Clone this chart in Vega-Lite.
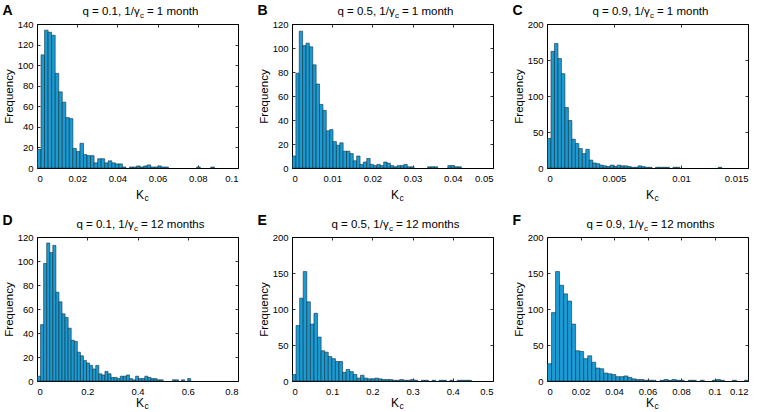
{
  "$schema": "https://vega.github.io/schema/vega-lite/v6.json",
  "background": "white",
  "padding": {"left": 1, "top": 2, "right": 0, "bottom": 0},
  "autosize": {"type": "pad"},
  "columns": 3,
  "spacing": {"row": 69, "column": 54},
  "bounds": "flush",
  "datasets": {
    "A": [{"k":0,"n":18},{"k":0.00176,"n":110},{"k":0.00352,"n":134},{"k":0.00528,"n":132},{"k":0.00704,"n":129},{"k":0.0088,"n":92},{"k":0.01056,"n":74},{"k":0.01232,"n":64},{"k":0.01408,"n":49},{"k":0.01584,"n":48},{"k":0.0176,"n":19},{"k":0.01936,"n":16},{"k":0.02112,"n":24},{"k":0.02288,"n":13},{"k":0.02464,"n":12},{"k":0.0264,"n":12},{"k":0.02816,"n":5},{"k":0.02992,"n":9},{"k":0.03168,"n":9},{"k":0.03344,"n":5},{"k":0.0352,"n":7},{"k":0.03696,"n":5},{"k":0.03872,"n":4},{"k":0.04048,"n":4},{"k":0.04224,"n":1},{"k":0.04576,"n":1},{"k":0.04752,"n":1},{"k":0.04928,"n":2},{"k":0.05104,"n":1},{"k":0.0528,"n":2},{"k":0.05456,"n":3},{"k":0.05632,"n":1},{"k":0.05808,"n":1},{"k":0.05984,"n":2},{"k":0.0616,"n":1},{"k":0.06336,"n":1},{"k":0.0792,"n":1},{"k":0.08624,"n":1}],
    "B": [{"k":0,"n":10},{"k":0.00084,"n":79},{"k":0.00168,"n":114},{"k":0.00252,"n":102},{"k":0.00336,"n":104},{"k":0.0042,"n":101},{"k":0.00504,"n":86},{"k":0.00588,"n":70},{"k":0.00672,"n":53},{"k":0.00756,"n":48},{"k":0.0084,"n":31},{"k":0.00924,"n":32},{"k":0.01008,"n":22},{"k":0.01092,"n":19},{"k":0.01176,"n":21},{"k":0.0126,"n":14},{"k":0.01344,"n":14},{"k":0.01428,"n":12},{"k":0.01512,"n":6},{"k":0.01596,"n":10},{"k":0.0168,"n":3},{"k":0.01764,"n":5},{"k":0.01848,"n":8},{"k":0.01932,"n":3},{"k":0.02016,"n":2},{"k":0.021,"n":3},{"k":0.02184,"n":2},{"k":0.02268,"n":5},{"k":0.02352,"n":4},{"k":0.02436,"n":2},{"k":0.0252,"n":1},{"k":0.02604,"n":2},{"k":0.02688,"n":2},{"k":0.02772,"n":3},{"k":0.02856,"n":1},{"k":0.0294,"n":1},{"k":0.0336,"n":1},{"k":0.03444,"n":1},{"k":0.03528,"n":1},{"k":0.03864,"n":2},{"k":0.03948,"n":2},{"k":0.04032,"n":1},{"k":0.04116,"n":1}],
    "C": [{"k":0,"n":41},{"k":0.00026,"n":162},{"k":0.00052,"n":173},{"k":0.00078,"n":152},{"k":0.00104,"n":131},{"k":0.0013,"n":84},{"k":0.00156,"n":66},{"k":0.00182,"n":40},{"k":0.00208,"n":34},{"k":0.00234,"n":27},{"k":0.0026,"n":20},{"k":0.00286,"n":26},{"k":0.00312,"n":11},{"k":0.00338,"n":7},{"k":0.00364,"n":6},{"k":0.0039,"n":4},{"k":0.00416,"n":3},{"k":0.00442,"n":2},{"k":0.00468,"n":4},{"k":0.00494,"n":2},{"k":0.0052,"n":4},{"k":0.00546,"n":3},{"k":0.00572,"n":3},{"k":0.00598,"n":2},{"k":0.00624,"n":1},{"k":0.0065,"n":1},{"k":0.00676,"n":3},{"k":0.00702,"n":2},{"k":0.00728,"n":1},{"k":0.00754,"n":1},{"k":0.00806,"n":1},{"k":0.00832,"n":1},{"k":0.00858,"n":1},{"k":0.00884,"n":1},{"k":0.00936,"n":1},{"k":0.00962,"n":1},{"k":0.01274,"n":1}],
    "D": [{"k":0,"n":4},{"k":0.0122,"n":47},{"k":0.0244,"n":98},{"k":0.0366,"n":115},{"k":0.0488,"n":107},{"k":0.061,"n":113},{"k":0.0732,"n":74},{"k":0.0854,"n":66},{"k":0.0976,"n":56},{"k":0.1098,"n":53},{"k":0.122,"n":44},{"k":0.1342,"n":34},{"k":0.1464,"n":33},{"k":0.1586,"n":24},{"k":0.1708,"n":21},{"k":0.183,"n":17},{"k":0.1952,"n":15},{"k":0.2074,"n":13},{"k":0.2196,"n":10},{"k":0.2318,"n":13},{"k":0.244,"n":6},{"k":0.2562,"n":5},{"k":0.2684,"n":8},{"k":0.2806,"n":6},{"k":0.2928,"n":3},{"k":0.305,"n":3},{"k":0.3172,"n":2},{"k":0.3294,"n":4},{"k":0.3416,"n":4},{"k":0.3538,"n":5},{"k":0.366,"n":2},{"k":0.3782,"n":1},{"k":0.3904,"n":4},{"k":0.4026,"n":2},{"k":0.4148,"n":2},{"k":0.427,"n":4},{"k":0.4392,"n":3},{"k":0.4514,"n":2},{"k":0.4636,"n":2},{"k":0.4758,"n":1},{"k":0.488,"n":1},{"k":0.5368,"n":1},{"k":0.549,"n":1},{"k":0.5734,"n":1},{"k":0.5978,"n":2}],
    "E": [{"k":0,"n":9},{"k":0.0089,"n":77},{"k":0.0178,"n":115},{"k":0.0267,"n":152},{"k":0.0356,"n":110},{"k":0.0445,"n":79},{"k":0.0534,"n":94},{"k":0.0623,"n":61},{"k":0.0712,"n":42},{"k":0.0801,"n":40},{"k":0.089,"n":34},{"k":0.0979,"n":31},{"k":0.1068,"n":27},{"k":0.1157,"n":27},{"k":0.1246,"n":12},{"k":0.1335,"n":16},{"k":0.1424,"n":13},{"k":0.1513,"n":9},{"k":0.1602,"n":4},{"k":0.1691,"n":8},{"k":0.178,"n":4},{"k":0.1869,"n":3},{"k":0.1958,"n":3},{"k":0.2047,"n":4},{"k":0.2136,"n":3},{"k":0.2225,"n":2},{"k":0.2314,"n":2},{"k":0.2403,"n":2},{"k":0.2492,"n":1},{"k":0.2581,"n":1},{"k":0.267,"n":2},{"k":0.2759,"n":1},{"k":0.2848,"n":1},{"k":0.2937,"n":2},{"k":0.3026,"n":1},{"k":0.3204,"n":1},{"k":0.3293,"n":1},{"k":0.3471,"n":1},{"k":0.3649,"n":1},{"k":0.3738,"n":1},{"k":0.3916,"n":1},{"k":0.4094,"n":1},{"k":0.4183,"n":1},{"k":0.4272,"n":1},{"k":0.4361,"n":1}],
    "F": [{"k":0,"n":24},{"k":0.0024,"n":95},{"k":0.0048,"n":152},{"k":0.0072,"n":133},{"k":0.0096,"n":121},{"k":0.012,"n":111},{"k":0.0144,"n":79},{"k":0.0168,"n":42},{"k":0.0192,"n":41},{"k":0.0216,"n":31},{"k":0.024,"n":35},{"k":0.0264,"n":26},{"k":0.0288,"n":18},{"k":0.0312,"n":17},{"k":0.0336,"n":11},{"k":0.036,"n":10},{"k":0.0384,"n":9},{"k":0.0408,"n":6},{"k":0.0432,"n":6},{"k":0.0456,"n":7},{"k":0.048,"n":5},{"k":0.0504,"n":3},{"k":0.0528,"n":2},{"k":0.0552,"n":2},{"k":0.0576,"n":1},{"k":0.06,"n":1},{"k":0.0624,"n":1},{"k":0.0672,"n":1},{"k":0.0696,"n":2},{"k":0.072,"n":1},{"k":0.0744,"n":2},{"k":0.0768,"n":1},{"k":0.0792,"n":1},{"k":0.084,"n":1},{"k":0.0864,"n":1},{"k":0.0912,"n":1},{"k":0.0984,"n":1},{"k":0.1008,"n":2},{"k":0.1032,"n":1},{"k":0.1104,"n":1},{"k":0.1176,"n":1}]
  },
  "concat": [
    {"width":201,"height":144,"data":{"name":"A"},
     "layer":[
      {"mark":{"type":"bar","binSpacing":0,"fill":"#1a9bd3","stroke":"#10303f","strokeWidth":0.6},
       "encoding":{
        "x":{"field":"k","type":"quantitative","bin":{"binned":true,"step":0.00176},"scale":{"domain":[0,0.1],"nice":false,"zero":false},"axis":{"orient":"bottom","values":[0,0.02,0.04,0.06,0.08,0.1],"format":"~g","title":"K","titleX":106.5,"titleAlign":"right"}},
        "y":{"field":"n","type":"quantitative","scale":{"domain":[0,140],"nice":false},"axis":{"orient":"left","values":[0,20,40,60,80,100,120,140],"title":"Frequency"}}}},
      {"mark":{"type":"point","opacity":0},
       "encoding":{
        "x":{"field":"k","type":"quantitative","scale":{"domain":[0,0.1],"nice":false,"zero":false},"axis":{"orient":"top","values":[0,0.02,0.04,0.06,0.08,0.1],"title":"q = 0.1, 1/γ","titleX":102.2,"titleAlign":"right"}},
        "y":{"field":"n","type":"quantitative","scale":{"domain":[0,140],"nice":false},"axis":{"orient":"right","values":[0,20,40,60,80,100,120,140],"title":"A"}}}},
      {"mark":{"type":"point","opacity":0},
       "encoding":{
        "x":{"field":"k","type":"quantitative","scale":{"domain":[0,0.1],"nice":false,"zero":false},"axis":{"orient":"bottom","ticks":false,"labels":false,"title":"c","titleX":107,"titleY":32,"titleAlign":"left","titleFontSize":8.5}},
        "y":{"field":"n","type":"quantitative","scale":{"domain":[0,140],"nice":false},"axis":{"orient":"left","ticks":false,"labels":false,"title":"c","titleAngle":0,"titleX":102.5,"titleY":-7,"titleAlign":"left","titleFontSize":8}}}},
      {"mark":{"type":"point","opacity":0},
       "encoding":{
        "x":{"field":"k","type":"quantitative","scale":{"domain":[0,0.1],"nice":false,"zero":false},"axis":{"orient":"top","ticks":false,"labels":false,"title":"= 1 month","titleX":109.4,"titleAlign":"left"}},
        "y":{"field":"n","type":"quantitative","scale":{"domain":[0,140],"nice":false},"axis":null}}}
     ],
     "resolve":{"axis":{"x":"independent","y":"independent"}}},
    {"width":201,"height":144,"data":{"name":"B"},
     "layer":[
      {"mark":{"type":"bar","binSpacing":0,"fill":"#1a9bd3","stroke":"#10303f","strokeWidth":0.6},
       "encoding":{
        "x":{"field":"k","type":"quantitative","bin":{"binned":true,"step":0.00084},"scale":{"domain":[0,0.05],"nice":false,"zero":false},"axis":{"orient":"bottom","values":[0,0.01,0.02,0.03,0.04,0.05],"format":"~g","title":"K","titleX":106.5,"titleAlign":"right"}},
        "y":{"field":"n","type":"quantitative","scale":{"domain":[0,120],"nice":false},"axis":{"orient":"left","values":[0,20,40,60,80,100,120],"title":"Frequency"}}}},
      {"mark":{"type":"point","opacity":0},
       "encoding":{
        "x":{"field":"k","type":"quantitative","scale":{"domain":[0,0.05],"nice":false,"zero":false},"axis":{"orient":"top","values":[0,0.01,0.02,0.03,0.04,0.05],"title":"q = 0.5, 1/γ","titleX":102.2,"titleAlign":"right"}},
        "y":{"field":"n","type":"quantitative","scale":{"domain":[0,120],"nice":false},"axis":{"orient":"right","values":[0,20,40,60,80,100,120],"title":"B"}}}},
      {"mark":{"type":"point","opacity":0},
       "encoding":{
        "x":{"field":"k","type":"quantitative","scale":{"domain":[0,0.05],"nice":false,"zero":false},"axis":{"orient":"bottom","ticks":false,"labels":false,"title":"c","titleX":107,"titleY":32,"titleAlign":"left","titleFontSize":8.5}},
        "y":{"field":"n","type":"quantitative","scale":{"domain":[0,120],"nice":false},"axis":{"orient":"left","ticks":false,"labels":false,"title":"c","titleAngle":0,"titleX":102.5,"titleY":-7,"titleAlign":"left","titleFontSize":8}}}},
      {"mark":{"type":"point","opacity":0},
       "encoding":{
        "x":{"field":"k","type":"quantitative","scale":{"domain":[0,0.05],"nice":false,"zero":false},"axis":{"orient":"top","ticks":false,"labels":false,"title":"= 1 month","titleX":109.4,"titleAlign":"left"}},
        "y":{"field":"n","type":"quantitative","scale":{"domain":[0,120],"nice":false},"axis":null}}}
     ],
     "resolve":{"axis":{"x":"independent","y":"independent"}}},
    {"width":201,"height":144,"data":{"name":"C"},
     "layer":[
      {"mark":{"type":"bar","binSpacing":0,"fill":"#1a9bd3","stroke":"#10303f","strokeWidth":0.6},
       "encoding":{
        "x":{"field":"k","type":"quantitative","bin":{"binned":true,"step":0.00026},"scale":{"domain":[0,0.015],"nice":false,"zero":false},"axis":{"orient":"bottom","values":[0,0.005,0.01,0.015],"format":"~g","title":"K","titleX":106.5,"titleAlign":"right"}},
        "y":{"field":"n","type":"quantitative","scale":{"domain":[0,200],"nice":false},"axis":{"orient":"left","values":[0,50,100,150,200],"title":"Frequency"}}}},
      {"mark":{"type":"point","opacity":0},
       "encoding":{
        "x":{"field":"k","type":"quantitative","scale":{"domain":[0,0.015],"nice":false,"zero":false},"axis":{"orient":"top","values":[0,0.005,0.01,0.015],"title":"q = 0.9, 1/γ","titleX":102.2,"titleAlign":"right"}},
        "y":{"field":"n","type":"quantitative","scale":{"domain":[0,200],"nice":false},"axis":{"orient":"right","values":[0,50,100,150,200],"title":"C"}}}},
      {"mark":{"type":"point","opacity":0},
       "encoding":{
        "x":{"field":"k","type":"quantitative","scale":{"domain":[0,0.015],"nice":false,"zero":false},"axis":{"orient":"bottom","ticks":false,"labels":false,"title":"c","titleX":107,"titleY":32,"titleAlign":"left","titleFontSize":8.5}},
        "y":{"field":"n","type":"quantitative","scale":{"domain":[0,200],"nice":false},"axis":{"orient":"left","ticks":false,"labels":false,"title":"c","titleAngle":0,"titleX":102.5,"titleY":-7,"titleAlign":"left","titleFontSize":8}}}},
      {"mark":{"type":"point","opacity":0},
       "encoding":{
        "x":{"field":"k","type":"quantitative","scale":{"domain":[0,0.015],"nice":false,"zero":false},"axis":{"orient":"top","ticks":false,"labels":false,"title":"= 1 month","titleX":109.4,"titleAlign":"left"}},
        "y":{"field":"n","type":"quantitative","scale":{"domain":[0,200],"nice":false},"axis":null}}}
     ],
     "resolve":{"axis":{"x":"independent","y":"independent"}}},
    {"width":201,"height":144,"data":{"name":"D"},
     "layer":[
      {"mark":{"type":"bar","binSpacing":0,"fill":"#1a9bd3","stroke":"#10303f","strokeWidth":0.6},
       "encoding":{
        "x":{"field":"k","type":"quantitative","bin":{"binned":true,"step":0.0122},"scale":{"domain":[0,0.8],"nice":false,"zero":false},"axis":{"orient":"bottom","values":[0,0.2,0.4,0.6,0.8],"format":"~g","title":"K","titleX":106.5,"titleY":25,"titleAlign":"right"}},
        "y":{"field":"n","type":"quantitative","scale":{"domain":[0,120],"nice":false},"axis":{"orient":"left","values":[0,20,40,60,80,100,120],"title":"Frequency"}}}},
      {"mark":{"type":"point","opacity":0},
       "encoding":{
        "x":{"field":"k","type":"quantitative","scale":{"domain":[0,0.8],"nice":false,"zero":false},"axis":{"orient":"top","values":[0,0.2,0.4,0.6,0.8],"title":"q = 0.1, 1/γ","titleX":96.2,"titleAlign":"right"}},
        "y":{"field":"n","type":"quantitative","scale":{"domain":[0,120],"nice":false},"axis":{"orient":"right","values":[0,20,40,60,80,100,120],"title":"D","titleY":-13}}}},
      {"mark":{"type":"point","opacity":0},
       "encoding":{
        "x":{"field":"k","type":"quantitative","scale":{"domain":[0,0.8],"nice":false,"zero":false},"axis":{"orient":"bottom","ticks":false,"labels":false,"title":"c","titleX":107,"titleY":27,"titleAlign":"left","titleFontSize":8.5}},
        "y":{"field":"n","type":"quantitative","scale":{"domain":[0,120],"nice":false},"axis":{"orient":"left","ticks":false,"labels":false,"title":"c","titleAngle":0,"titleX":96.5,"titleY":-7,"titleAlign":"left","titleFontSize":8}}}},
      {"mark":{"type":"point","opacity":0},
       "encoding":{
        "x":{"field":"k","type":"quantitative","scale":{"domain":[0,0.8],"nice":false,"zero":false},"axis":{"orient":"top","ticks":false,"labels":false,"title":"= 12 months","titleX":103.4,"titleAlign":"left"}},
        "y":{"field":"n","type":"quantitative","scale":{"domain":[0,120],"nice":false},"axis":null}}}
     ],
     "resolve":{"axis":{"x":"independent","y":"independent"}}},
    {"width":201,"height":144,"data":{"name":"E"},
     "layer":[
      {"mark":{"type":"bar","binSpacing":0,"fill":"#1a9bd3","stroke":"#10303f","strokeWidth":0.6},
       "encoding":{
        "x":{"field":"k","type":"quantitative","bin":{"binned":true,"step":0.0089},"scale":{"domain":[0,0.5],"nice":false,"zero":false},"axis":{"orient":"bottom","values":[0,0.1,0.2,0.3,0.4,0.5],"format":"~g","title":"K","titleX":106.5,"titleY":25,"titleAlign":"right"}},
        "y":{"field":"n","type":"quantitative","scale":{"domain":[0,200],"nice":false},"axis":{"orient":"left","values":[0,50,100,150,200],"title":"Frequency"}}}},
      {"mark":{"type":"point","opacity":0},
       "encoding":{
        "x":{"field":"k","type":"quantitative","scale":{"domain":[0,0.5],"nice":false,"zero":false},"axis":{"orient":"top","values":[0,0.1,0.2,0.3,0.4,0.5],"title":"q = 0.5, 1/γ","titleX":96.2,"titleAlign":"right"}},
        "y":{"field":"n","type":"quantitative","scale":{"domain":[0,200],"nice":false},"axis":{"orient":"right","values":[0,50,100,150,200],"title":"E","titleY":-13}}}},
      {"mark":{"type":"point","opacity":0},
       "encoding":{
        "x":{"field":"k","type":"quantitative","scale":{"domain":[0,0.5],"nice":false,"zero":false},"axis":{"orient":"bottom","ticks":false,"labels":false,"title":"c","titleX":107,"titleY":27,"titleAlign":"left","titleFontSize":8.5}},
        "y":{"field":"n","type":"quantitative","scale":{"domain":[0,200],"nice":false},"axis":{"orient":"left","ticks":false,"labels":false,"title":"c","titleAngle":0,"titleX":96.5,"titleY":-7,"titleAlign":"left","titleFontSize":8}}}},
      {"mark":{"type":"point","opacity":0},
       "encoding":{
        "x":{"field":"k","type":"quantitative","scale":{"domain":[0,0.5],"nice":false,"zero":false},"axis":{"orient":"top","ticks":false,"labels":false,"title":"= 12 months","titleX":103.4,"titleAlign":"left"}},
        "y":{"field":"n","type":"quantitative","scale":{"domain":[0,200],"nice":false},"axis":null}}}
     ],
     "resolve":{"axis":{"x":"independent","y":"independent"}}},
    {"width":201,"height":144,"data":{"name":"F"},
     "layer":[
      {"mark":{"type":"bar","binSpacing":0,"fill":"#1a9bd3","stroke":"#10303f","strokeWidth":0.6},
       "encoding":{
        "x":{"field":"k","type":"quantitative","bin":{"binned":true,"step":0.0024},"scale":{"domain":[0,0.12],"nice":false,"zero":false},"axis":{"orient":"bottom","values":[0,0.02,0.04,0.06,0.08,0.1,0.12],"format":"~g","title":"K","titleX":106.5,"titleY":25,"titleAlign":"right"}},
        "y":{"field":"n","type":"quantitative","scale":{"domain":[0,200],"nice":false},"axis":{"orient":"left","values":[0,50,100,150,200],"title":"Frequency"}}}},
      {"mark":{"type":"point","opacity":0},
       "encoding":{
        "x":{"field":"k","type":"quantitative","scale":{"domain":[0,0.12],"nice":false,"zero":false},"axis":{"orient":"top","values":[0,0.02,0.04,0.06,0.08,0.1,0.12],"title":"q = 0.9, 1/γ","titleX":96.2,"titleAlign":"right"}},
        "y":{"field":"n","type":"quantitative","scale":{"domain":[0,200],"nice":false},"axis":{"orient":"right","values":[0,50,100,150,200],"title":"F","titleY":-13}}}},
      {"mark":{"type":"point","opacity":0},
       "encoding":{
        "x":{"field":"k","type":"quantitative","scale":{"domain":[0,0.12],"nice":false,"zero":false},"axis":{"orient":"bottom","ticks":false,"labels":false,"title":"c","titleX":107,"titleY":27,"titleAlign":"left","titleFontSize":8.5}},
        "y":{"field":"n","type":"quantitative","scale":{"domain":[0,200],"nice":false},"axis":{"orient":"left","ticks":false,"labels":false,"title":"c","titleAngle":0,"titleX":96.5,"titleY":-7,"titleAlign":"left","titleFontSize":8}}}},
      {"mark":{"type":"point","opacity":0},
       "encoding":{
        "x":{"field":"k","type":"quantitative","scale":{"domain":[0,0.12],"nice":false,"zero":false},"axis":{"orient":"top","ticks":false,"labels":false,"title":"= 12 months","titleX":103.4,"titleAlign":"left"}},
        "y":{"field":"n","type":"quantitative","scale":{"domain":[0,200],"nice":false},"axis":null}}}
     ],
     "resolve":{"axis":{"x":"independent","y":"independent"}}}
  ],
  "config": {
    "font": "Liberation Sans",
    "view": {"stroke": "#000", "strokeWidth": 1},
    "axis": {"domain": false, "grid": false, "tickColor": "#000", "tickSize": -3, "tickWidth": 0.8, "labelFont": "Liberation Sans", "labelFontSize": 9.5, "labelColor": "#000", "titleFont": "Liberation Sans", "titleColor": "#000", "titleFontWeight": "normal"},
    "axisLeft": {"labelPadding": 7, "titleFontSize": 11.5, "titleX": -25, "titleBaseline": "alphabetic"},
    "axisBottom": {"labelPadding": 8, "titleFontSize": 12, "titleY": 30, "titleBaseline": "alphabetic"},
    "axisTop": {"labels": false, "titleFontSize": 11.5, "titleY": -9.5, "titleBaseline": "alphabetic"},
    "axisRight": {"labels": false, "titleFontSize": 14, "titleFontWeight": "bold", "titleAngle": 0, "titleAlign": "left", "titleBaseline": "alphabetic", "titleX": -236, "titleY": -10}
  }
}
